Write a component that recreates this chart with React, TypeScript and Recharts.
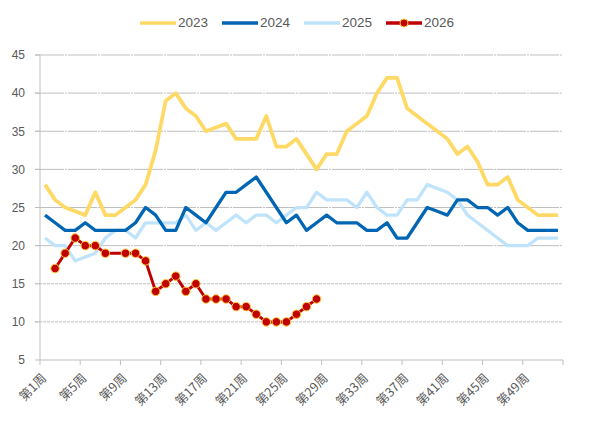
import { LineChart, Line, XAxis, YAxis, CartesianGrid } from "recharts";

const WEEKS = Array.from({ length: 52 }, (_, i) => i + 1);
const LABEL_WEEKS = [1, 5, 9, 13, 17, 21, 25, 29, 33, 37, 41, 45, 49];
const Y_TICKS = [5, 10, 15, 20, 25, 30, 35, 40, 45];

const Y2023 = [
  28, 26, 25, 24.5, 24, 27, 24, 24, 25, 26, 28, 32.5, 39, 40, 38, 37, 35, 35.5,
  36, 34, 34, 34, 37, 33, 33, 34, 32, 30, 32, 32, 35, 36, 37, 40, 42, 42, 38, 37,
  36, 35, 34, 32, 33, 31, 28, 28, 29, 26, 25, 24, 24, 24,
];
const Y2024 = [
  24, 23, 22, 22, 23, 22, 22, 22, 22, 23, 25, 24, 22, 22, 25, 24, 23, 25, 27, 27,
  28, 29, 27, 25, 23, 24, 22, 23, 24, 23, 23, 23, 22, 22, 23, 21, 21, 23, 25,
  24.5, 24, 26, 26, 25, 25, 24, 25, 23, 22, 22, 22, 22,
];
const Y2025 = [
  21, 20, 20, 18, 18.5, 19, 21, 22, 22, 21, 23, 23, 23, 23, 24, 22, 23, 22, 23,
  24, 23, 24, 24, 23, 24, 25, 25, 27, 26, 26, 26, 25, 27, 25, 24, 24, 26, 26, 28,
  27.5, 27, 26, 24, 23, 22, 21, 20, 20, 20, 21, 21, 21,
];
// week 1 and week 8 have no reading yet
const Y2026 = [
  null, 17, 19, 21, 20, 20, 19, null, 19, 19, 18, 14, 15, 16, 14, 15, 13, 13, 13,
  12, 12, 11, 10, 10, 10, 11, 12, 13,
];

const rows = WEEKS.map((week, i) => ({
  week,
  y2023: Y2023[i],
  y2024: Y2024[i],
  y2025: Y2025[i],
  y2026: Y2026[i] ?? null,
}));

const SERIES = [
  { key: "2023", color: "#FFD966" },
  { key: "2024", color: "#0066B3" },
  { key: "2025", color: "#BFE3FA" },
  { key: "2026", color: "#C00000" },
];

const WIDTH = 590;
const HEIGHT = 425;
const MARGIN = { top: 55, right: 27, left: 0, bottom: 0 };
const Y_AXIS_W = 40;
const HALF_WEEK = (WIDTH - MARGIN.right - MARGIN.left - Y_AXIS_W) / 52 / 2;

const AXIS_GRAY = "#BFBFBF";
const TEXT_GRAY = "#595959";
const FONT = "'Liberation Sans', Arial, sans-serif";

const WeekTick = (props: any) => {
  const { x, y, payload } = props;
  const week = payload.value + 0.5;
  if (!LABEL_WEEKS.includes(week)) return <g />;
  const ax = x + HALF_WEEK + 2;
  const ay = y + 12;
  return (
    <text
      x={ax}
      y={ay}
      textAnchor="end"
      transform={`rotate(-45 ${ax} ${ay})`}
      fontSize={12.5}
      fill={TEXT_GRAY}
      fontFamily="'Noto Sans CJK SC', sans-serif"
    >
      第{week}周
    </text>
  );
};

// upper grid lines are dash-dot, the low ones dotted
const GridLine = (props: any) => {
  const { x1, x2, y1, y2, index } = props;
  const value = Y_TICKS[index];
  if (value === 5) return <g key={props.key} />;
  return (
    <line
      key={props.key}
      x1={x1 - 5}
      x2={x2}
      y1={y1}
      y2={y2}
      stroke={AXIS_GRAY}
      strokeWidth={1}
      strokeDasharray={value >= 20 ? "29 1 2 1" : "3 1"}
    />
  );
};

const LegendRow = () => (
  <div
    style={{
      position: "absolute",
      top: 14,
      left: 0,
      width: WIDTH,
      display: "flex",
      justifyContent: "center",
      gap: 14,
      paddingLeft: 4,
      boxSizing: "border-box",
      fontFamily: FONT,
      fontSize: 13.5,
      color: TEXT_GRAY,
      lineHeight: "18px",
    }}
  >
    {SERIES.map((s) => (
      <div key={s.key} style={{ display: "flex", alignItems: "center" }}>
        <svg width={37} height={12} style={{ marginRight: 1 }}>
          <line x1={0} x2={36} y1={6} y2={6} stroke={s.color} strokeWidth={3.5} />
          {s.key === "2026" && (
            <circle cx={18} cy={6} r={4} fill={s.color} stroke="#FFCC33" strokeWidth={1} />
          )}
        </svg>
        <span>{s.key}</span>
      </div>
    ))}
  </div>
);

export default function App() {
  return (
    <div
      style={{
        position: "absolute",
        left: 0,
        top: 0,
        width: WIDTH,
        height: HEIGHT,
        background: "#fff",
      }}
    >
      <LineChart width={WIDTH} height={HEIGHT} data={rows} margin={MARGIN}>
        <CartesianGrid vertical={false} horizontal={GridLine} />
        <XAxis
          type="number"
          dataKey="week"
          domain={[0.5, 52.5]}
          ticks={LABEL_WEEKS.map((w) => w - 0.5).concat(52.5)}
          interval={0}
          height={65}
          axisLine={{ stroke: AXIS_GRAY }}
          tickLine={{ stroke: AXIS_GRAY }}
          tickSize={5}
          tick={WeekTick}
        />
        <YAxis
          domain={[5, 45]}
          ticks={Y_TICKS}
          interval={0}
          width={Y_AXIS_W}
          axisLine={{ stroke: AXIS_GRAY }}
          tickLine={{ stroke: AXIS_GRAY }}
          tickSize={5}
          tickMargin={10}
          tick={{ fontSize: 12, fill: TEXT_GRAY, fontFamily: FONT }}
        />
        <Line
          dataKey="y2023"
          stroke="#FFD966"
          strokeWidth={3.75}
          dot={false}
          isAnimationActive={false}
          strokeLinejoin="round"
        />
        <Line
          dataKey="y2025"
          stroke="#BFE3FA"
          strokeWidth={3.25}
          dot={false}
          isAnimationActive={false}
          strokeLinejoin="round"
        />
        <Line
          dataKey="y2024"
          stroke="#0066B3"
          strokeWidth={3.25}
          dot={false}
          isAnimationActive={false}
          strokeLinejoin="round"
        />
        <Line
          dataKey="y2026"
          stroke="#C00000"
          strokeWidth={3}
          connectNulls
          dot={{ r: 4.25, fill: "#C00000", stroke: "#FFCC33", strokeWidth: 1 }}
          isAnimationActive={false}
          strokeLinejoin="round"
        />
      </LineChart>
      <LegendRow />
    </div>
  );
}
